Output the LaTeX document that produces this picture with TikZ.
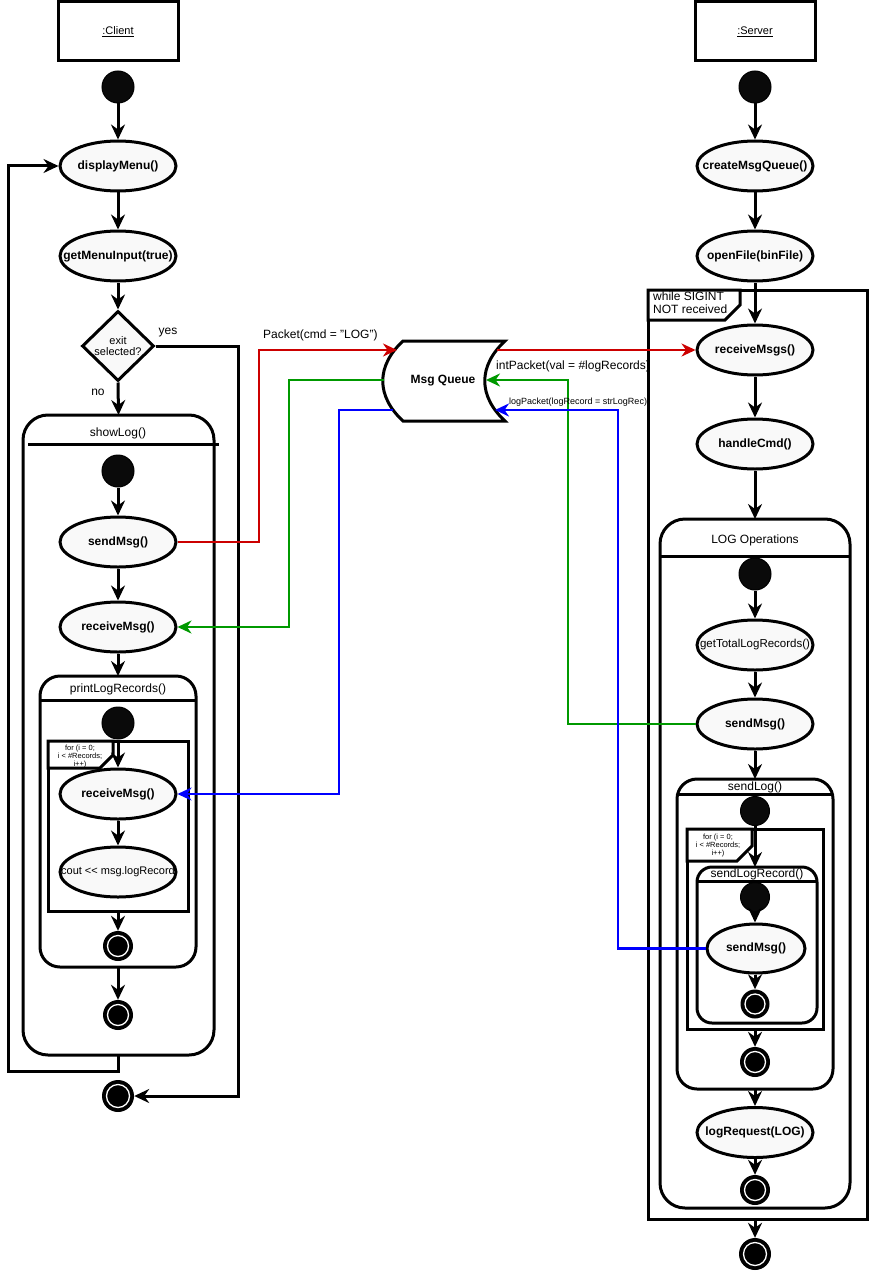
\documentclass[tikz,border=0pt]{standalone}
\usepackage{fontspec}
\setmainfont{Liberation Sans}
\usetikzlibrary{arrows.meta,calc,shapes.geometric}
\definecolor{actfill}{HTML}{F9F9F9}
\definecolor{cred}{HTML}{CC0000}
\definecolor{cgreen}{HTML}{009900}
\definecolor{cblue}{HTML}{0000FF}
\newcommand{\zb}[1]{\makebox[0pt]{#1}}
\begin{document}
\begin{tikzpicture}[x=1pt,y=-1pt,
  lw/.style={line width=3pt},
  act/.style={ellipse, draw, line width=3pt, fill=actfill, minimum width=116pt, minimum height=50pt, inner sep=0pt, font=\bfseries\fontsize{12}{14}\selectfont},
  startc/.style={circle, fill=black!96, draw=black, line width=1pt, minimum size=32pt, inner sep=0pt},
  endc/.style={circle, fill=black, minimum size=#1, inner sep=0pt,
     path picture={\draw[white,line width=1.3pt] (path picture bounding box.center) circle ({#1/2-4.5pt});}},
  endc/.default=32pt,
  box/.style={draw, line width=3pt, inner sep=0pt, outer sep=0pt},
  ttl/.style={font=\fontsize{12}{14}\selectfont, inner sep=0pt},
  lbl/.style={font=\fontsize{12}{14}\selectfont, inner sep=0pt},
  arr/.style={-{Stealth[length=15pt,width=14pt,inset=5pt]}, line width=3pt},
  carr/.style={-{Stealth[length=14pt,width=13pt,inset=4.5pt]}, line width=2.6pt},
  loopl/.style={font=\fontsize{7.5}{8}\selectfont, align=center, inner sep=0pt},
]
\useasboundingbox (0,0) rectangle (880,1284);

% ---------- lifeline headers ----------
\node[box, minimum width=120pt, minimum height=59pt, font=\fontsize{11}{13}\selectfont] (client) at (118,31.5) {\underline{:Client}};
\node[box, minimum width=120pt, minimum height=59pt, font=\fontsize{11}{13}\selectfont] (server) at (755,31.5) {\underline{:Server}};

% ---------- client container boxes ----------
\node[box, rounded corners=25pt, minimum width=191pt, minimum height=640pt] (showlog) at (118.5,735) {};
\draw[lw] (28,444) -- (219,444);
\node[ttl] (showlogt) at (118,433) {showLog()};

\node[box, rounded corners=20pt, minimum width=156pt, minimum height=291pt] (plr) at (118,821.5) {};
\draw[lw] (40,700) -- (196,700);
\node[ttl] (plrt) at (118,689) {printLogRecords()};

\node[box, minimum width=140pt, minimum height=170pt] (loop1) at (118,826) {};
\draw[lw, fill=white] (48,741) -- (113,741) -- (113,755) -- (100,768) -- (48,768) -- cycle;
\node[loopl] (loop1t) at (80,757) {for (i = 0;\\ i < \#Records;\\ i++)};

% ---------- client nodes ----------
\node[startc] (cs) at (118,87) {};
\node[act] (dm) at (118,166) {\zb{displayMenu()}};
\node[act] (gmi) at (118,256) {\zb{getMenuInput(true)}};
\node[diamond, draw, line width=3pt, fill=actfill, minimum width=72pt, minimum height=70pt, inner sep=0pt, font=\fontsize{11}{13}\selectfont] (dec) at (118,346) {\zb{\shortstack{exit\\selected?}}};
\node[startc] (sls) at (118,471) {};
\node[act] (slsend) at (118,542) {\zb{sendMsg()}};
\node[act] (slrecv) at (118,627) {\zb{receiveMsg()}};
\node[startc] (plrs) at (118,723) {};
\node[act] (plrrecv) at (118,794) {\zb{receiveMsg()}};
\node[act, font=\fontsize{11}{13}\selectfont] (cout) at (118,872) {\zb{cout <{}< msg.logRecord}};
\node[endc=30pt] (plre) at (118,946) {};
\node[endc=30pt] (sle) at (118,1015) {};
\node[endc] (cfin) at (118,1096) {};

\node[lbl] (yes) at (168,333) {yes};
\node[lbl] (no) at (98,392) {no};

% ---------- server container boxes ----------
\node[box, minimum width=219pt, minimum height=929pt] (while) at (757.5,754.5) {};
\draw[lw, fill=white] (648,290) -- (740,290) -- (740,305) -- (725,320) -- (648,320) -- cycle;
\node[font=\fontsize{12}{13}\selectfont, align=left, inner sep=0pt, anchor=north west] (whilet) at (653,292) {while SIGINT\\NOT received};

\node[box, rounded corners=25pt, minimum width=190pt, minimum height=689pt] (logops) at (755,863.5) {};
\draw[lw] (660,556) -- (850,556);
\node[ttl] (logopst) at (755,540) {LOG Operations};

\node[box, rounded corners=20pt, minimum width=156pt, minimum height=310pt] (sendlog) at (755,934) {};
\draw[lw] (677,794) -- (833,794);
\node[ttl] (sendlogt) at (755,787) {sendLog()};

\node[box, minimum width=136pt, minimum height=200pt] (loop2) at (755,929) {};
\draw[lw, fill=white] (687,829) -- (752,829) -- (752,846) -- (737,861) -- (687,861) -- cycle;
\node[loopl] (loop2t) at (718,846) {for (i = 0;\\ i < \#Records;\\ i++)};

\node[box, rounded corners=15pt, minimum width=120pt, minimum height=156pt] (slr) at (757,945) {};
\draw[lw] (697,881) -- (817,881);
\node[ttl] (slrt) at (757,874) {sendLogRecord()};

% ---------- server nodes ----------
\node[startc] (ss) at (755,87) {};
\node[act] (cmq) at (755,166) {\zb{createMsgQueue()}};
\node[act] (of) at (755,256) {\zb{openFile(binFile)}};
\node[act] (rm) at (755,350) {\zb{receiveMsgs()}};
\node[act] (hc) at (755,444) {\zb{handleCmd()}};
\node[startc] (los) at (755,574) {};
\node[act, font=\fontsize{11.5}{13}\selectfont] (gt) at (755,645) {\zb{getTotalLogRecords()}};
\node[act] (sm1) at (755,724) {\zb{sendMsg()}};
\node[startc, minimum size=29pt] (sdls) at (755,811) {};
\node[startc, minimum size=29pt] (slrs) at (755,897) {};
\node[act, minimum width=98pt, minimum height=49pt] (sm2) at (756,948.5) {\zb{sendMsg()}};
\node[endc=29pt] (slre) at (755,1004) {};
\node[endc=30pt] (sdle) at (755,1062) {};
\node[act] (lr) at (755,1132.5) {\zb{logRequest(LOG)}};
\node[endc=30pt] (loe) at (755,1190) {};
\node[endc] (sfin) at (755,1254) {};

% ---------- message queue ----------
\node[minimum width=120pt, minimum height=80pt, inner sep=0pt] (mq) at (443,381) {};
\draw[lw, fill=white] (403,341) -- (505,341) .. controls (478,366) and (478,396) .. (505,421) -- (403,421) .. controls (376,396) and (376,366) .. (403,341) -- cycle;
\node[font=\bfseries\fontsize{12}{14}\selectfont, inner sep=0pt] (mqt) at (443,381) {Msg Queue};

\coordinate (mqRin) at (397,350);
\coordinate (mqRout) at (497,350);
\coordinate (mqGin) at (486,380);
\coordinate (mqGout) at (384,380);
\coordinate (mqBin) at (495,410);
\coordinate (mqBout) at (393,410);
\coordinate (r1) at (259,350);
\coordinate (g1) at (568,380);
\coordinate (g2) at (289,627);
\coordinate (b1) at (618,410);
\coordinate (b2) at (339,794);
\coordinate (yesc) at (238,1096);
\coordinate (backc) at (8,1071);

% ---------- client flow ----------
\draw[arr] (cs) -- (dm);
\draw[arr] (dm) -- (gmi);
\draw[arr] (gmi) -- (dec);
\draw[arr] (dec.south) -- (showlog.north);
\draw[arr] (dec.east) -| (yesc) -- (cfin);
\draw[arr] (showlog.south) |- (backc) |- (dm.west);
\draw[arr] (sls) -- (slsend);
\draw[arr] (slsend) -- (slrecv);
\draw[arr] (slrecv) -- (plr.north);
\draw[arr] (plrs) -- (plrrecv);
\draw[arr] (plrrecv) -- (cout);
\draw[arr] (loop1.south) -- (plre);
\draw[arr] (plr.south) -- (sle);

% ---------- server flow ----------
\draw[arr] (ss) -- (cmq);
\draw[arr] (cmq) -- (of);
\draw[arr] (of) -- (rm);
\draw[arr] (rm) -- (hc);
\draw[arr] (hc) -- (logops.north);
\draw[arr] (los) -- (gt);
\draw[arr] (gt) -- (sm1);
\draw[arr] (sm1) -- (sendlog.north);
\draw[arr] (sdls) -- (slr.north -| sdls);
\draw[arr] (slrs) -- (sm2.north -| slrs);
\draw[arr] (sm2.south -| slre) -- (slre);
\draw[arr] (loop2.south) -- (sdle);
\draw[arr] (sendlog.south) -- (lr);
\draw[arr] (lr) -- (loe);
\draw[arr] (while.south -| sfin) -- (sfin);

% ---------- messages ----------
\draw[carr, cred] (slsend.east) -| (r1) -- (mqRin);
\draw[carr, cred] (mqRout) -- (rm.west);
\node[lbl, anchor=south west] (pl) at (263,341) {Packet(cmd = "LOG")};

\draw[carr, cgreen] (sm1.west) -| (g1) -- (mqGin);
\draw[carr, cgreen] (mqGout) -| (g2) -- (slrecv.east);
\node[lbl, anchor=west] (il) at (496,366) {intPacket(val = \#logRecords)};

\draw[carr, cblue] (sm2.west) -| (b1) -- (mqBin);
\draw[carr, cblue] (mqBout) -| (b2) -- (plrrecv.east);
\node[font=\fontsize{9}{10}\selectfont, inner sep=0pt, anchor=west] (ll) at (509,402) {logPacket(logRecord = strLogRec)};
\end{tikzpicture}
\end{document}
